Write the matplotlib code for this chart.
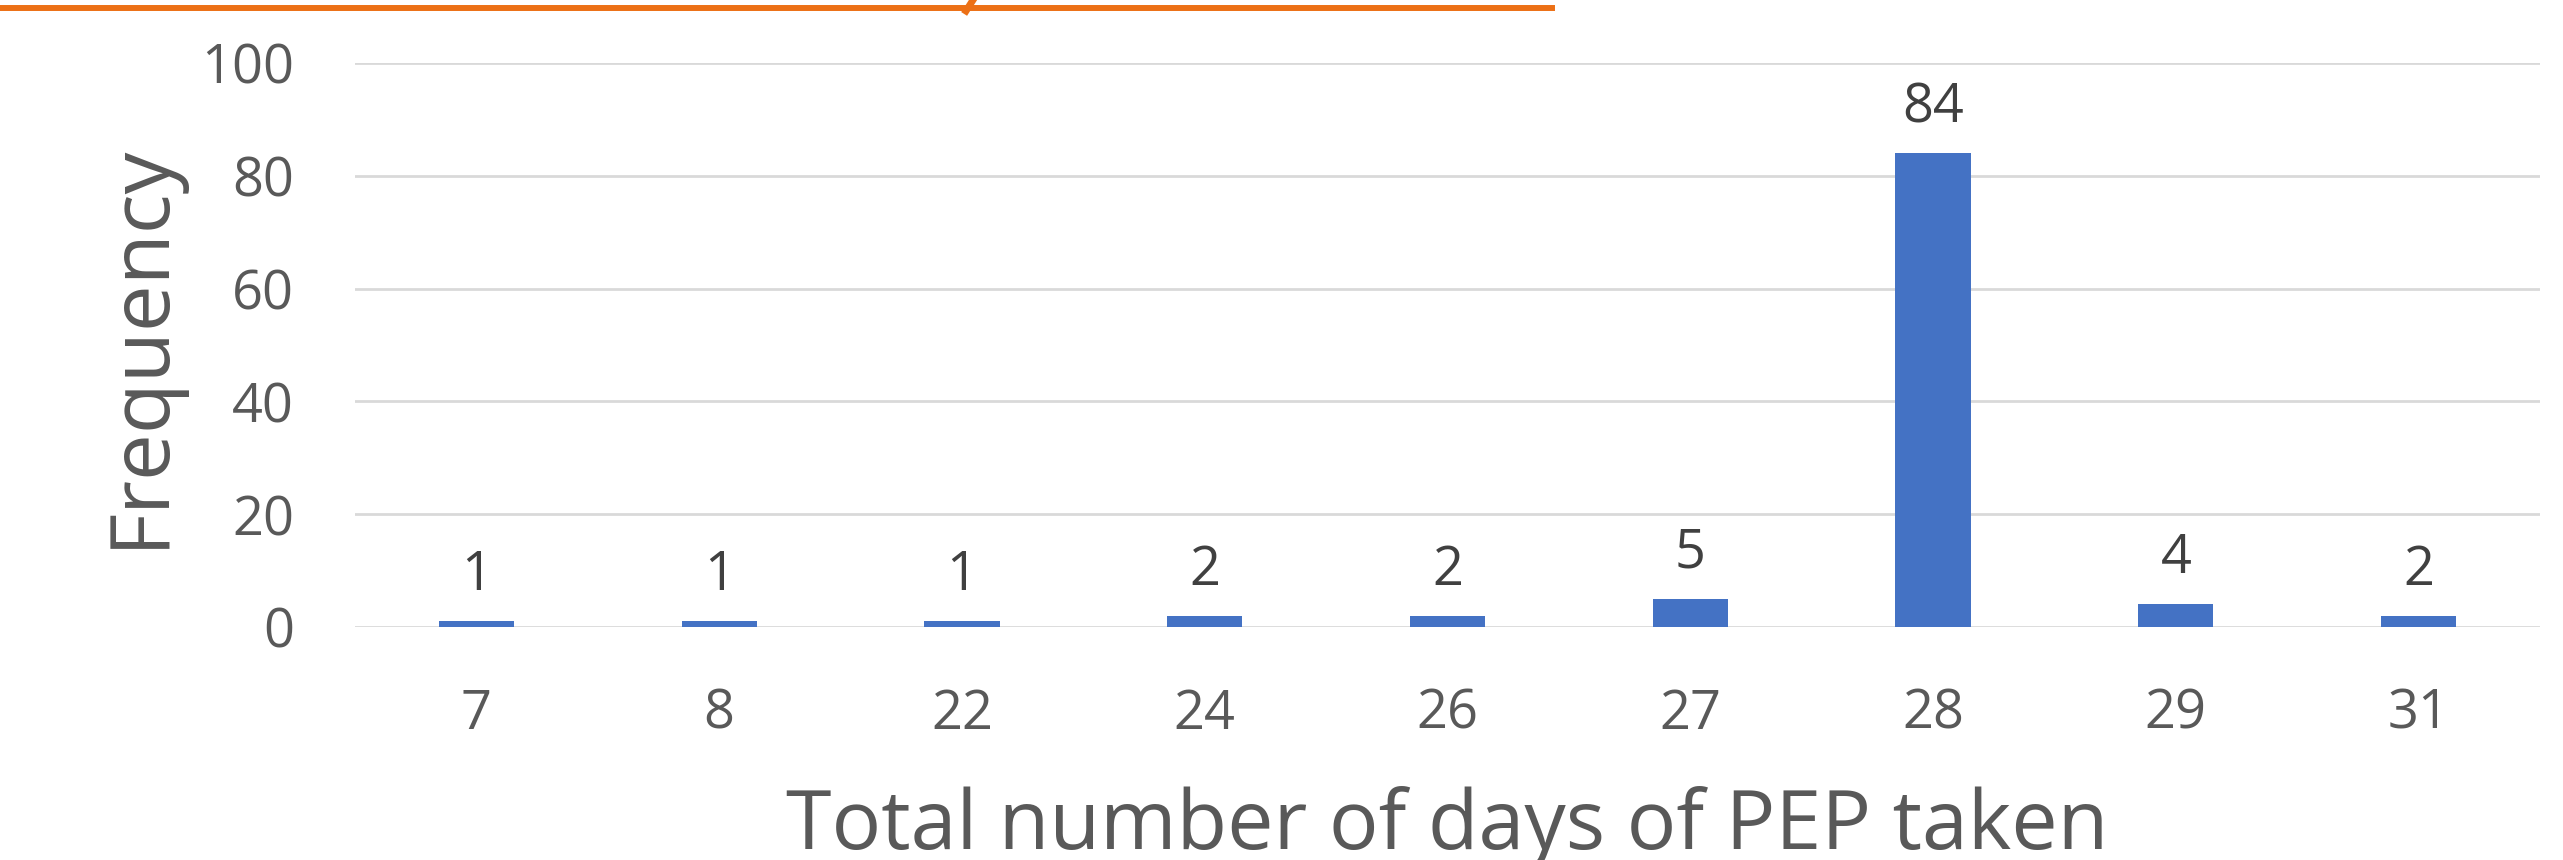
import matplotlib
matplotlib.use("Agg")
import matplotlib.pyplot as plt
from matplotlib.lines import Line2D

categories = ["7", "8", "22", "24", "26", "27", "28", "29", "31"]
frequency = [1, 1, 1, 2, 2, 5, 84, 4, 2]
y_ticks = [0, 20, 40, 60, 80, 100]

W, H = 2563, 860
fig = plt.figure(figsize=(W / 100, H / 100), dpi=100)
plt.rcParams['font.family'] = ['Open Sans', 'DejaVu Sans']

left, right, top, bottom = 355, 2540, 63, 627
ax = fig.add_axes([left / W, 1 - bottom / H, (right - left) / W, (bottom - top) / H])

x = list(range(len(categories)))
ax.bar(x, frequency, width=0.31, color="#4472C4", zorder=3)
ax.set_xlim(-0.5, len(categories) - 0.5)
ax.set_ylim(0, 100)
ax.set_yticks(y_ticks)
ax.set_xticks(x)
ax.set_xticklabels(categories)
ax.grid(axis="y", color="#D9D9D9", linewidth=2, zorder=0)
ax.set_axisbelow(True)
for s in ax.spines.values():
    s.set_visible(False)
ax.tick_params(axis="both", length=0, labelsize=39, colors="#595959")
ax.tick_params(axis="y", pad=44)
ax.tick_params(axis="x", pad=43)

for xi, v in zip(x, frequency):
    ax.annotate(str(v), (xi, v), xytext=(0, 13), textcoords="offset points",
                ha="center", va="bottom", fontsize=39, color="#404040")

ax.set_ylabel("Frequency", fontsize=60, color="#595959", labelpad=14)
ax.set_xlabel("Total number of days of PEP taken", fontsize=59.5, color="#595959", labelpad=32)

# orange decorative rule at the top (cropped title area)
fig.add_artist(Line2D([0, 1552 / W], [1 - 8 / H, 1 - 8 / H], color="#EC7016", linewidth=4.3))
fig.add_artist(Line2D([966 / W, 973 / W], [1 - 11 / H, 1.0], color="#EC7016", linewidth=5))

fig.savefig("out.png", dpi=100)
